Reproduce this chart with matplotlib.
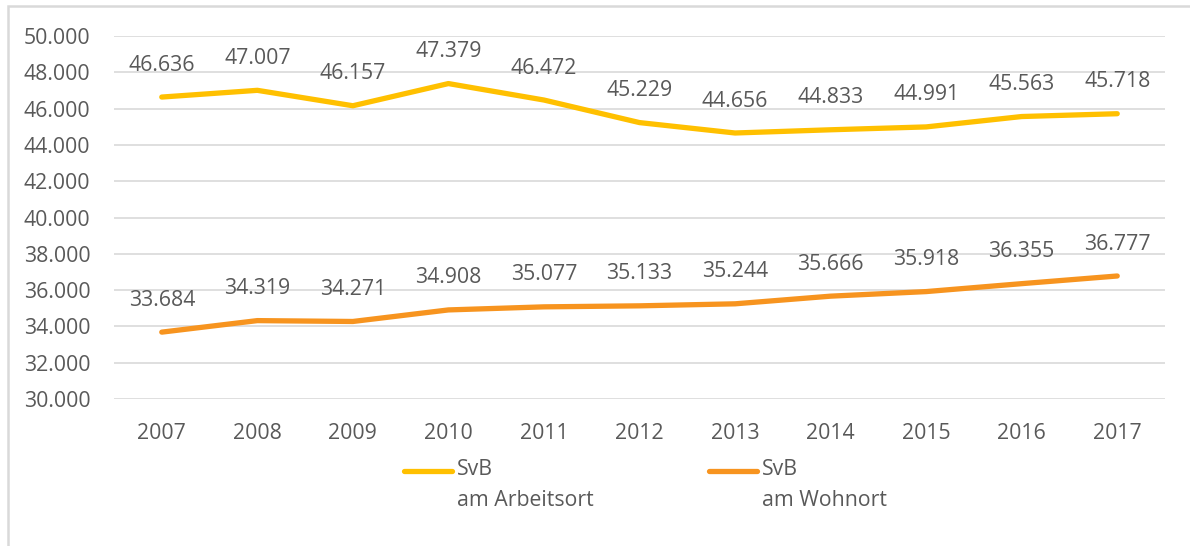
import matplotlib
matplotlib.use("Agg")
import matplotlib.pyplot as plt
from matplotlib.lines import Line2D
from matplotlib.patches import Rectangle

# Daten
jahre = ["2007", "2008", "2009", "2010", "2011", "2012", "2013", "2014", "2015", "2016", "2017"]
arbeitsort = [46636, 47007, 46157, 47379, 46472, 45229, 44656, 44833, 44991, 45563, 45718]
wohnort = [33684, 34319, 34271, 34908, 35077, 35133, 35244, 35666, 35918, 36355, 36777]
y_ticks = list(range(30000, 50001, 2000))

gelb = "#FFC000"
orange = "#F7941F"
grau_text = "#595959"
grau_linie = "#D9D9D9"
fs = 15.3


def de_format(v):
    return f"{v:,}".replace(",", ".")


plt.rcParams['font.family'] = ['Open Sans', 'DejaVu Sans']

fig = plt.figure(figsize=(11.9, 5.46), dpi=100)
ax = fig.add_axes([114 / 1190, 1 - 399 / 546, (1165 - 114) / 1190, (399 - 36) / 546])

x = range(len(jahre))
ax.plot(x, arbeitsort, color=gelb, linewidth=3.8, solid_capstyle='round', zorder=3)
ax.plot(x, wohnort, color=orange, linewidth=3.8, solid_capstyle='round', zorder=3)

# Datenbeschriftungen
for serie in (arbeitsort, wohnort):
    for i, v in enumerate(serie):
        ax.annotate(de_format(v), (i, v), xytext=(0, 23), textcoords='offset points',
                    ha='center', va='center', fontsize=fs, color=grau_text)

ax.set_xlim(-0.5, len(jahre) - 0.5)
ax.set_ylim(30000, 50000)
ax.set_xticks(list(x))
ax.set_xticklabels(jahre)
ax.set_yticks(y_ticks)
ax.set_yticklabels([de_format(t) for t in y_ticks])
ax.tick_params(axis='both', length=0, labelsize=fs, labelcolor=grau_text)
ax.tick_params(axis='y', pad=17)
ax.tick_params(axis='x', pad=17)
ax.grid(axis='y', color=grau_linie, linewidth=1.2)
ax.set_axisbelow(True)
for s in ax.spines.values():
    s.set_visible(False)

# Legende (Linie an der ersten Textzeile ausgerichtet)
for x0, farbe, text in [(404, gelb, "SvB\nam Arbeitsort"), (709, orange, "SvB\nam Wohnort")]:
    fig.add_artist(Line2D([x0 / 1190, (x0 + 48) / 1190], [1 - 471 / 546, 1 - 471 / 546],
                          color=farbe, linewidth=3.8, solid_capstyle='round'))
    fig.text((x0 + 53) / 1190, 1 - 459 / 546, text, ha='left', va='top', fontsize=fs,
             color=grau_text, linespacing=1.65)

# Rahmen des Diagramms
fig.add_artist(Rectangle((8 / 1190, -0.1), 1.2, 1.1 - 6 / 546, fill=False,
                         edgecolor=grau_linie, linewidth=1.8, transform=fig.transFigure))

fig.savefig("out.png", dpi=100)
